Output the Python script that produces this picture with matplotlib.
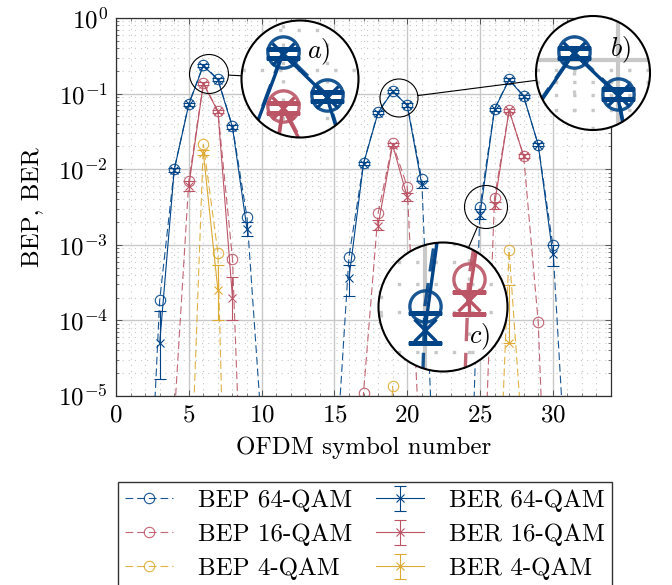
import numpy as np
import matplotlib
matplotlib.use('Agg')
import matplotlib.pyplot as plt
from matplotlib.patches import Circle
from matplotlib.lines import Line2D
from matplotlib.collections import LineCollection
from matplotlib.transforms import IdentityTransform
from matplotlib.ticker import MultipleLocator, LogLocator, NullFormatter

nan = np.nan

# ---- data (values below 1e-5 only steer the lines off the bottom) ----
bep64_x = [2, 3, 4, 5, 6, 7, 8, 9, 10, nan, 15, 16, 17, 18, 19, 20, 21, 22, nan, 24, 25, 26, 27, 28, 29, 30, 31]
bep64 = [1.6e-8, 1.85e-4, 1.0e-2, 0.073, 0.24, 0.155, 0.037, 2.3e-3, 3.8e-6, nan,
         6e-7, 6.9e-4, 0.012, 0.057, 0.108, 0.071, 7.4e-3, 1.3e-7, nan,
         1.6e-9, 3.2e-3, 0.063, 0.155, 0.093, 0.021, 1.0e-3, 4.5e-7]

bep16_x = [4, 5, 6, 7, 8, 9, nan, 16, 17, 18, 19, 20, 21, nan, 25, 26, 27, 28, 29, 30]
bep16 = [5e-6, 6.9e-3, 0.138, 0.059, 6.5e-4, 4e-9, nan,
         1e-8, 1.1e-5, 2.6e-3, 0.022, 5.9e-3, 6e-7, nan,
         2.5e-8, 4.2e-3, 0.06, 0.015, 9.5e-5, 1e-9]

bep4_x = [5, 6, 7, 8, nan, 18, 19, 20, nan, 26, 27, 28]
bep4 = [1.1e-7, 0.0215, 7.8e-4, 2e-11, nan, 1e-9, 1.35e-5, 1e-9, nan, 1.3e-8, 8.5e-4, 1.6e-6]

ber64_x = [3, 4, 5, 6, 7, 8, 9, nan, 16, 17, 18, 19, 20, 21, nan, 25, 26, 27, 28, 29, 30]
ber64 = [5e-5, 9.8e-3, 0.072, 0.235, 0.152, 0.036, 1.6e-3, nan,
         3.6e-4, 0.0118, 0.056, 0.107, 0.07, 6.3e-3, nan,
         2.5e-3, 0.062, 0.152, 0.092, 0.021, 7.5e-4]
ber64_lo = [1.7e-5, 9.2e-3, 0.069, 0.225, 0.145, 0.034, 1.3e-3, nan,
            2.1e-4, 0.0112, 0.053, 0.102, 0.067, 5.6e-3, nan,
            2.2e-3, 0.059, 0.145, 0.088, 0.020, 5.3e-4]
ber64_hi = [1.35e-4, 1.05e-2, 0.076, 0.246, 0.159, 0.038, 2.0e-3, nan,
            5.4e-4, 0.0124, 0.059, 0.113, 0.074, 7.0e-3, nan,
            2.97e-3, 0.065, 0.159, 0.096, 0.022, 1.0e-3]

ber16_x = [5, 6, 7, 8, nan, 18, 19, 20, nan, 26, 27, 28]
ber16 = [6e-3, 0.135, 0.058, 2.0e-4, nan, 1.8e-3, 0.021, 4.3e-3, nan, 3.4e-3, 0.06, 0.015]
ber16_lo = [5.2e-3, 0.128, 0.055, 1.0e-4, nan, 1.55e-3, 0.020, 3.8e-3, nan, 2.95e-3, 0.057, 0.014]
ber16_hi = [6.9e-3, 0.142, 0.061, 3.7e-4, nan, 2.1e-3, 0.022, 4.9e-3, nan, 3.7e-3, 0.063, 0.016]

ber4_x = [6, 7, nan, 27]
ber4 = [0.0165, 2.5e-4, nan, 5e-5]
ber4_lo = [0.0155, 1.0e-4, nan, 5e-5]
ber4_hi = [0.018, 5.4e-4, nan, 2.9e-4]

BLUE, RED, YELLOW = '#004488', '#BB5566', '#DDAA33'

bep_series = [(bep64_x, bep64, BLUE, 'BEP 64-QAM'),
              (bep16_x, bep16, RED, 'BEP 16-QAM'),
              (bep4_x, bep4, YELLOW, 'BEP 4-QAM')]
ber_series = [(ber64_x, ber64, ber64_lo, ber64_hi, BLUE, 'BER 64-QAM'),
              (ber16_x, ber16, ber16_lo, ber16_hi, RED, 'BER 16-QAM'),
              (ber4_x, ber4, ber4_lo, ber4_hi, YELLOW, 'BER 4-QAM')]

plt.rcParams['font.family'] = 'cmr10'
plt.rcParams['mathtext.fontset'] = 'cm'
plt.rcParams['axes.formatter.use_mathtext'] = True
plt.rcParams['font.size'] = 18

W, H = 672, 585
fig = plt.figure(figsize=(W / 100, H / 100), dpi=100)
ax = fig.add_axes([116 / W, 1 - 396 / H, 495 / W, 378 / H])

GRID = '#c8c8c8'


def draw(a, s, labels=True):
    for x, y, c, lab in bep_series:
        a.plot(x, y, color=c, ls=(0, (7, 3.5)), lw=0.8 * s, marker='o', ms=7.5 * s,
               mfc='none', mew=0.8 * s, alpha=0.9, label=lab if labels else None, zorder=2)
    for x, y, lo, hi, c, lab in ber_series:
        y = np.array(y)
        err = [y - np.array(lo), np.array(hi) - y]
        a.errorbar(x, y, yerr=err, color=c, lw=0.8 * s, marker='x', ms=5.5 * s,
                   mew=0.8 * s, capsize=4 * s, capthick=0.8 * s, elinewidth=0.8 * s,
                   label=lab if labels else None, zorder=3)


draw(ax, 1)
ax.set_yscale('log')
ax.set_xlim(0, 34)
ax.set_ylim(1e-5, 1)
ax.xaxis.set_major_locator(MultipleLocator(5))
ax.xaxis.set_minor_locator(MultipleLocator(1))
ax.yaxis.set_minor_locator(LogLocator(base=10, subs=np.arange(2, 10), numticks=20))
ax.yaxis.set_minor_formatter(NullFormatter())
ax.grid(which='major', color=GRID, lw=1.0)
ax.grid(which='minor', color=GRID, lw=0.8, ls=(0, (1, 4.5)))
ax.set_axisbelow(True)
ax.tick_params(which='both', direction='in', top=True, right=True, color='#404040')
ax.tick_params(which='major', length=4.5, width=0.6, pad=6)
ax.tick_params(which='minor', length=2.5, width=0.5)
for sp in ax.spines.values():
    sp.set_linewidth(0.9)
    sp.set_color('#303030')
ax.set_xlabel('OFDM symbol number', labelpad=7)
ax.set_ylabel('BEP, BER', labelpad=10)

h, l = ax.get_legend_handles_labels()
fig.legend(h, l, ncol=2, loc='upper left', mode='expand',
           bbox_to_anchor=(118 / W, 0, 494 / W, 1 - 482 / H), bbox_transform=fig.transFigure,
           borderaxespad=0, fancybox=False, edgecolor='#333333', framealpha=1,
           handlelength=1.9, handletextpad=1.0, labelspacing=0.46, borderpad=0.3,
           fontsize=18)

# ---- magnifying glasses: (small centre px, small r, big centre px, big r, label, label offset) ----
spies = [((209, 74), 19.5, (300, 79), 58.5, 'a)', (19, -27)),
         ((399, 98), 19, (593, 73), 57, 'b)', (27, -23)),
         ((486, 207), 21.5, (443, 307), 64.5, 'c)', (37, 30))]

inv = ax.transData.inverted()
for (sx, sy), rs, (bx, by), R, lab, (dx, dy) in spies:
    fig.add_artist(Circle((sx, H - sy), rs, transform=IdentityTransform(), fill=False,
                          ec='black', lw=0.8))
    u = np.array([bx - sx, sy - by], dtype=float)
    u /= np.hypot(*u)
    p1 = np.array([sx, H - sy]) + rs * u
    p2 = np.array([bx, H - by]) - R * u
    fig.add_artist(Line2D([p1[0], p2[0]], [p1[1], p2[1]], transform=IdentityTransform(),
                          color='black', lw=0.8))

    x0, y0 = inv.transform((sx - rs, H - (sy + rs)))
    x1, y1 = inv.transform((sx + rs, H - (sy - rs)))
    iax = fig.add_axes([(bx - R) / W, 1 - (by + R) / H, 2 * R / W, 2 * R / H])
    iax.set_axis_off()
    iax.add_patch(Circle((0.5, 0.5), 0.5, transform=iax.transAxes, fc='white', ec='none', zorder=0))
    iax.set_yscale('log')
    for xv in range(0, 35):
        if x0 <= xv <= x1:
            if xv % 5 == 0:
                iax.axvline(xv, color=GRID, lw=3.0, zorder=1)
            else:
                iax.axvline(xv, color=GRID, lw=2.4, ls=(0, (1, 4.5)), zorder=1)
    for e in range(-6, 1):
        for k in range(1, 10):
            v = k * 10.0 ** e
            if y0 <= v <= y1:
                if k == 1:
                    iax.axhline(v, color=GRID, lw=3.0, zorder=1)
                else:
                    iax.axhline(v, color=GRID, lw=2.4, ls=(0, (1, 4.5)), zorder=1)
    draw(iax, 3, labels=False)
    iax.set_xlim(x0, x1)
    iax.set_ylim(y0, y1)
    clip = Circle((0.5, 0.5), 0.5, transform=iax.transAxes)
    for art in iax.get_children():
        if isinstance(art, (Line2D, LineCollection)):
            art.set_clip_path(clip)
    iax.add_patch(Circle((0.5, 0.5), 0.5, transform=iax.transAxes, fill=False,
                         ec='black', lw=1.5, clip_on=False, zorder=10))
    iax.text(0.5 + dx / (2 * R), 0.5 - dy / (2 * R), '$' + lab + '$', transform=iax.transAxes,
             fontsize=19, ha='center', va='center', zorder=11)

fig.savefig('out.png', dpi=100)
